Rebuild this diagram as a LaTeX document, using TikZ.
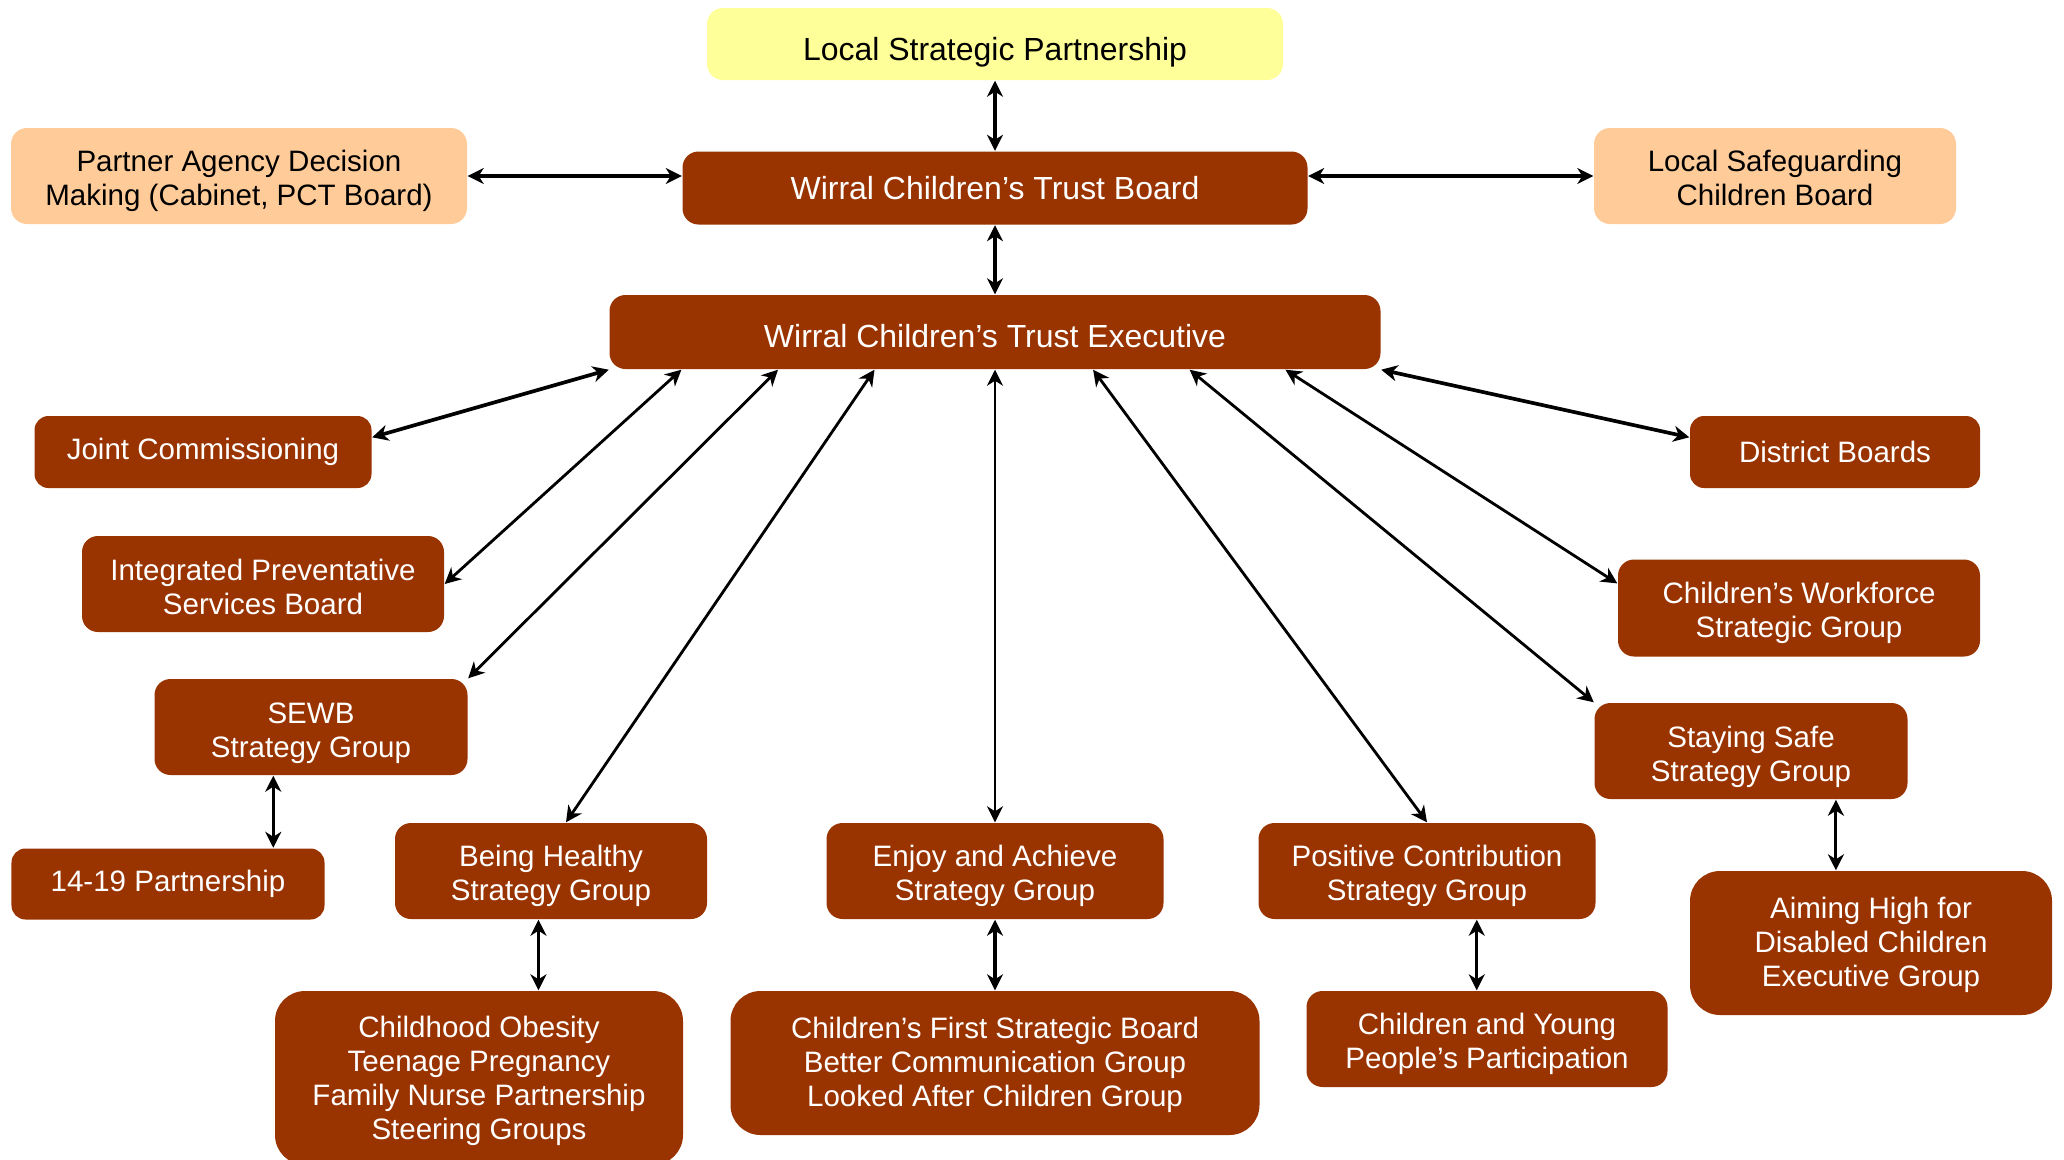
\documentclass[tikz,border=0pt]{standalone}
\usepackage{fontspec}
\setmainfont{Liberation Sans}
\usetikzlibrary{shapes,arrows,positioning,calc,arrows.meta}
\definecolor{trustbrown}{RGB}{153,51,0}
\definecolor{partnerpeach}{RGB}{255,204,153}
\definecolor{lspyellow}{RGB}{255,255,153}
\newcommand{\boxfont}{\fontsize{8.4pt}{9.7pt}\selectfont}
\newcommand{\topfont}{\fontsize{9.1pt}{9.7pt}\selectfont}
% invisible strut that pushes a box's text down a little
\newcommand{\dropline}[1]{\rule{0pt}{#1}}

\begin{document}
\begin{tikzpicture}[
    board/.style={rectangle, rounded corners=0.16cm, fill=trustbrown, text=white, font=\boxfont, align=center, inner sep=0pt},
    bigboard/.style={board, rounded corners=0.3cm},
    partner/.style={board, fill=partnerpeach, text=black},
    link/.style={{Stealth[length=0.16cm,width=0.16cm,inset=0.05cm]}-{Stealth[length=0.16cm,width=0.16cm,inset=0.05cm]}, line width=0.8pt},
    uplink/.style={link, line width=0.9pt},
    boldlink/.style={link, line width=1.05pt}
]
\useasboundingbox (0,0) rectangle (20.64,11.59);

% === LAYOUT ===
% Top chain: partnership, trust board, executive centred at x=9.95
% Side groups fan out from executive bottom edge
% Sub-groups hang below their strategy group

% Top of the structure
\node[partner, fill=lspyellow, font=\topfont, minimum width=5.76cm, minimum height=0.72cm] (lsp) at (9.95, 11.15) {\dropline{1.24em}Local Strategic Partnership};
\node[board, font=\topfont, minimum width=6.25cm, minimum height=0.73cm] (board) at (9.95, 9.71) {Wirral Children’s Trust Board};
\node[partner, minimum width=4.56cm, minimum height=0.96cm] (agency) at (2.39, 9.83) {\dropline{1.08em}Partner Agency Decision\\Making (Cabinet, PCT Board)};
\node[partner, minimum width=3.62cm, minimum height=0.96cm] (lscb) at (17.75, 9.83) {\dropline{0.85em}Local Safeguarding\\Children Board};
\node[board, font=\topfont, minimum width=7.71cm, minimum height=0.74cm] (exec) at (9.95, 8.27) {\dropline{1em}Wirral Children’s Trust Executive};

% Groups round the executive
\node[board, rounded corners=0.14cm, minimum width=3.37cm, minimum height=0.72cm] (joint) at (2.03, 7.07) {Joint Commissioning};
\node[board, rounded corners=0.14cm, minimum width=2.90cm, minimum height=0.72cm] (district) at (18.35, 7.07) {District Boards};
\node[board, minimum width=3.62cm, minimum height=0.96cm] (ipsb) at (2.63, 5.75) {\dropline{0.9em}Integrated Preventative\\Services Board};
\node[board, minimum width=3.62cm, minimum height=0.97cm] (workforce) at (17.99, 5.51) {\dropline{1.08em}Children’s Workforce\\Strategic Group};
\node[board, minimum width=3.13cm, minimum height=0.96cm] (sewb) at (3.11, 4.32) {\dropline{1.14em}SEWB\\Strategy Group};
\node[board, minimum width=3.13cm, minimum height=0.96cm] (safe) at (17.51, 4.08) {\dropline{1.14em}Staying Safe\\Strategy Group};
\node[board, rounded corners=0.14cm, minimum width=3.13cm, minimum height=0.71cm] (youth) at (1.68, 2.75) {14-19 Partnership};
\node[board, minimum width=3.12cm, minimum height=0.96cm] (healthy) at (5.51, 2.88) {\dropline{1.08em}Being Healthy\\Strategy Group};
\node[board, minimum width=3.37cm, minimum height=0.96cm] (enjoy) at (9.95, 2.88) {\dropline{1.08em}Enjoy and Achieve\\Strategy Group};
\node[board, minimum width=3.37cm, minimum height=0.96cm] (positive) at (14.27, 2.88) {\dropline{1.08em}Positive Contribution\\Strategy Group};

% Sub-groups
\node[bigboard, minimum width=3.62cm, minimum height=1.44cm] (aiming) at (18.71, 2.16) {\dropline{0.85em}Aiming High for\\Disabled Children\\Executive Group};
\node[bigboard, minimum width=4.08cm, minimum height=1.74cm] (obesity) at (4.79, 0.81) {\dropline{0.93em}Childhood Obesity\\Teenage Pregnancy\\Family Nurse Partnership\\Steering Groups};
\node[bigboard, minimum width=5.29cm, minimum height=1.44cm] (first) at (9.95, 0.96) {\dropline{0.85em}Children’s First Strategic Board\\Better Communication Group\\Looked After Children Group};
\node[board, minimum width=3.61cm, minimum height=0.96cm] (young) at (14.87, 1.20) {\dropline{1.08em}Children and Young\\People’s Participation};

% Top links
\draw[uplink] (lsp.south) -- (board.north);
\draw[boldlink] (agency.east) -- (agency.east -| board.west);
\draw[boldlink] (lscb.west) -- (lscb.west -| board.east);
\draw[uplink] (board.south) -- (exec.north);

% Executive fan-out
\draw[boldlink] (exec.south west) -- ($(joint.north east)!0.3!(joint.south east)$);
\draw[link] ($(exec.south west)!0.094!(exec.south east)$) -- (ipsb.east);
\draw[link] ($(exec.south west)!0.219!(exec.south east)$) -- (sewb.north east);
\draw[link] ($(exec.south west)!0.344!(exec.south east)$) -- ($(healthy.north)+(0.15,0)$);
\draw[link] (exec.south) -- (enjoy.north);
\draw[link] ($(exec.south west)!0.627!(exec.south east)$) -- (positive.north);
\draw[link] ($(exec.south west)!0.752!(exec.south east)$) -- (safe.north west);
\draw[link] ($(exec.south west)!0.876!(exec.south east)$) -- ($(workforce.north west)!0.25!(workforce.south west)$);
\draw[boldlink] (exec.south east) -- ($(district.north west)!0.3!(district.south west)$);

% Strategy groups to sub-groups
\coordinate (sewbout) at ($(sewb.south west)!0.38!(sewb.south east)$);
\coordinate (healthyout) at ($(healthy.south west)!0.46!(healthy.south east)$);
\coordinate (positiveout) at ($(positive.south west)!0.647!(positive.south east)$);
\coordinate (safeout) at ($(safe.south west)!0.77!(safe.south east)$);
\draw[uplink] (sewbout) -- (sewbout |- youth.north);
\draw[uplink] (healthyout) -- (healthyout |- obesity.north);
\draw[uplink] (enjoy.south) -- (first.north);
\draw[uplink] (positiveout) -- (positiveout |- young.north);
\draw[uplink] (safeout) -- (safeout |- aiming.north);

\end{tikzpicture}
\end{document}
